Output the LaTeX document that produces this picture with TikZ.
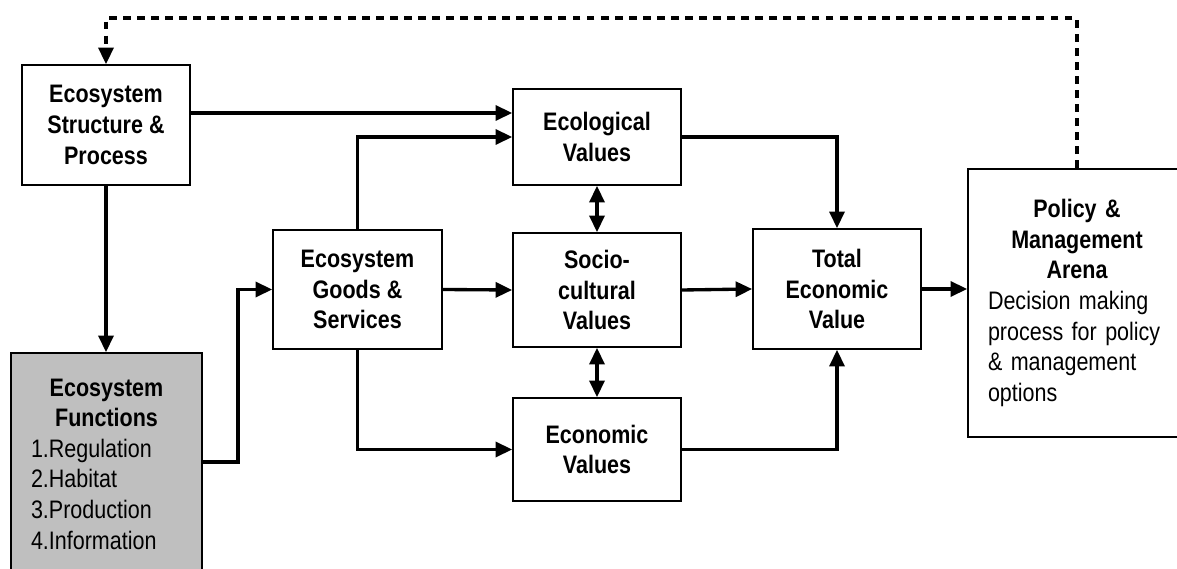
\documentclass[tikz,border=0pt]{standalone}
\usepackage{fontspec}
\setmainfont{Liberation Sans}[FakeStretch=0.85]
\usetikzlibrary{arrows.meta, calc}

\begin{document}
\begin{tikzpicture}[
    >={Triangle[length=0.33cm, width=0.3cm]},
    box/.style={draw, line width=1pt, align=center, inner sep=0pt,
        font=\fontsize{14.4}{17.4}\selectfont\bfseries},
    flow/.style={->, line width=1.9pt},
    link/.style={<->, line width=1.9pt},
    feedback/.style={->, dash pattern=on 4.5pt off 3.5pt, line width=2pt}
]
    \useasboundingbox (0,0) rectangle (23.54,-11.38);
    \coordinate (T) at (0,-0.36);
    \node [box, minimum width=3.36cm, minimum height=2.4cm] (struct) at (2.12,-2.5) {Ecosystem\\Structure \&\\Process};
    \node [box, fill=gray!50, minimum width=3.82cm, minimum height=4.44cm, text width=3.02cm, align=left] (func) at (2.13,-9.28)
        {{\centering Ecosystem\\Functions\par}\mdseries 1.Regulation\\2.Habitat\\3.Production\\4.Information\par\vspace{0.36cm}};
    \node [box, minimum width=3.38cm, minimum height=2.38cm] (goods) at (7.15,-5.79) {Ecosystem\\Goods \&\\Services};
    \node [box, minimum width=3.36cm, minimum height=1.92cm] (eco) at (11.94,-2.74) {Ecological\\Values};
    \node [box, minimum width=3.36cm, minimum height=2.28cm] (socio) at (11.94,-5.8) {Socio-\\cultural\\Values};
    \node [box, minimum width=3.36cm, minimum height=2.06cm] (econ) at (11.94,-8.99) {Economic\\Values};
    \node [box, minimum width=3.36cm, minimum height=2.4cm] (total) at (16.74,-5.78) {Total\\Economic\\Value};
    \node [box, minimum width=4.36cm, minimum height=5.36cm, text width=3.56cm, align=left] (policy) at (21.54,-6.06)
        {{\centering Policy \&\\Management\\Arena\par}\mdseries Decision making\\process for policy\\\& management\\options\par\vspace{0.66cm}};
    % value flows
    \draw [flow] ([yshift=0.24cm]struct.east) -- ([yshift=0.24cm]struct.east -| eco.west);
    \draw [flow] (struct.south) -- (struct.south |- func.north);
    \draw [flow] ([yshift=0.04cm]func.east) -- ++(0.7,0) |- (goods.west);
    \draw [flow] (goods.north) |- (eco.west);
    \draw [flow] (goods.east) -- (socio.west);
    \draw [flow] (goods.south) |- (econ.west);
    \draw [link] (eco.south) -- (socio.north);
    \draw [link] (socio.south) -- (econ.north);
    \draw [flow] (eco.east) -| (total.north);
    \draw [flow] (socio.east) -- (total.west);
    \draw [flow] (econ.east) -| (total.south);
    \draw [flow] (total.east) -- (total.east -| policy.west);
    % feedback to the ecosystem
    \draw [feedback] (policy.north) -- (policy.north |- T) -| (struct.north);
\end{tikzpicture}
\end{document}
